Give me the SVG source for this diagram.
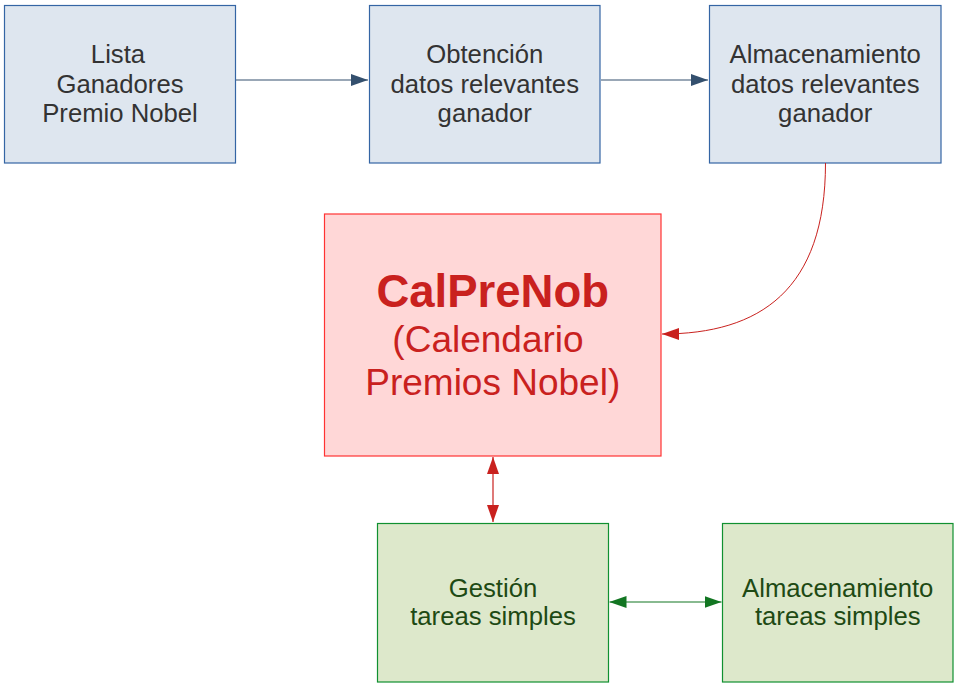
<svg xmlns="http://www.w3.org/2000/svg" width="956" height="693" viewBox="0 0 956 693">
<style>
.blue rect{fill:#dee6ef;stroke:#3465a4;stroke-width:1.2}
.blue text{fill:#333333}
.red rect{fill:#ffd7d7;stroke:#ff3333;stroke-width:1.2}
.red text{fill:#c9211e}
.green rect{fill:#dde8cb;stroke:#109030;stroke-width:1.2}
.green text{fill:#1e4a14}
text{font-family:"Liberation Sans",Arial,sans-serif;font-size:25.7px;text-anchor:middle}
.big{font-size:37px}
.bold{font-size:45.5px;font-weight:bold}
</style>
<defs>
<marker id="ab" viewBox="0 0 17 12" refX="17" refY="6" markerWidth="17" markerHeight="12" markerUnits="userSpaceOnUse" orient="auto-start-reverse"><path d="M0,0L17,6L0,12Z" fill="#34506e"/></marker>
<marker id="ar" viewBox="0 0 17 12" refX="17" refY="6" markerWidth="17" markerHeight="12" markerUnits="userSpaceOnUse" orient="auto-start-reverse"><path d="M0,0L17,6L0,12Z" fill="#c9211e"/></marker>
<marker id="ag" viewBox="0 0 17 12" refX="17" refY="6" markerWidth="17" markerHeight="12" markerUnits="userSpaceOnUse" orient="auto-start-reverse"><path d="M0,0L17,6L0,12Z" fill="#127622"/></marker>
</defs>
<g id="n1" class="blue"><rect x="4.5" y="5.5" width="231" height="157.5"/><text x="118" y="63">Lista</text><text x="120" y="92.5">Ganadores</text><text x="120" y="122">Premio Nobel</text></g>
<g id="n2" class="blue"><rect x="369.5" y="5.5" width="230.5" height="157.5"/><text x="484.75" y="63">Obtención</text><text x="484.75" y="92.5">datos relevantes</text><text x="484.75" y="122">ganador</text></g>
<g id="n3" class="blue"><rect x="709.5" y="5.5" width="231.5" height="157.5"/><text x="825.25" y="63">Almacenamiento</text><text x="825.25" y="92.5">datos relevantes</text><text x="825.25" y="122">ganador</text></g>
<g id="n4" class="red"><rect x="324.5" y="214" width="336.5" height="242"/><text class="bold" x="492.75" y="307">CalPreNob</text><text class="big" x="488" y="352">(Calendario</text><text class="big" x="492.75" y="395">Premios Nobel)</text></g>
<g id="n5" class="green"><rect x="377.5" y="523.5" width="231" height="158.5"/><text x="493" y="596.5">Gestión</text><text x="493" y="625">tareas simples</text></g>
<g id="n6" class="green"><rect x="722.5" y="523.5" width="230.5" height="158.5"/><text x="837.75" y="596.5">Almacenamiento</text><text x="837.75" y="625">tareas simples</text></g>
<g id="connectors" fill="none">
<path d="M236,80H368" stroke="#34506e" stroke-width="1.2" marker-end="url(#ab)"/>
<path d="M601,80H708" stroke="#34506e" stroke-width="1.2" marker-end="url(#ab)"/>
<path d="M825.5,163C825.5,290 760,334 662,334" stroke="#c9211e" stroke-width="1" marker-end="url(#ar)"/>
<path d="M493,457V522" stroke="#c9211e" stroke-width="1.2" marker-start="url(#ar)" marker-end="url(#ar)"/>
<path d="M609.5,602H721.5" stroke="#127622" stroke-width="1.2" marker-start="url(#ag)" marker-end="url(#ag)"/>
</g>
</svg>
